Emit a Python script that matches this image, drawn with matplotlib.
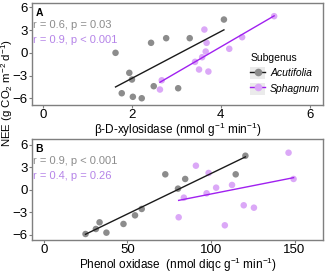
import numpy as np
import matplotlib
matplotlib.use("Agg")
import matplotlib.pyplot as plt
from matplotlib.lines import Line2D
from matplotlib.patches import Patch
from matplotlib.legend_handler import HandlerTuple

plt.rcParams['font.family'] = ['Liberation Sans', 'DejaVu Sans']
plt.rcParams['mathtext.fontset'] = 'custom'
plt.rcParams['mathtext.rm'] = 'Liberation Sans'
plt.rcParams['mathtext.it'] = 'Liberation Sans:italic'
plt.rcParams['mathtext.bf'] = 'Liberation Sans:bold'

# NEE values (g CO2 m-2 d-1)
acu_xyl = [1.63, 2.43, 2.77, 1.94, 2.00, 1.77, 2.02, 2.22, 2.49, 3.04, 4.07, 3.30]
acu_nee_a = [0.0, 1.32, 1.93, -2.64, -3.52, -5.33, -5.80, -5.99, -4.40, -4.67, 4.39, 1.93]
sph_xyl = [5.20, 3.63, 3.68, 4.48, 4.19, 3.66, 3.58, 3.42, 3.51, 3.72, 2.63, 2.67]
sph_nee_a = [4.83, 3.07, 1.32, 2.06, 0.53, 0.17, -0.58, -1.19, -2.20, -2.47, -4.84, -3.62]

acu_phe = [25.0, 31.2, 33.4, 37.5, 47.7, 54.6, 58.6, 72.7, 80.3, 84.6, 114.8, 120.6]
acu_nee_b = [-5.87, -5.20, -4.31, -5.69, -4.53, -3.38, -2.53, 2.09, 0.18, 1.47, 2.09, 4.57]
sph_phe = [146.4, 149.4, 91.0, 98.6, 103.1, 112.6, 97.4, 83.8, 80.7, 119.6, 125.7, 108.3]
sph_nee_b = [4.97, 1.47, 3.24, 2.27, 0.31, 0.67, -0.44, -1.02, -3.64, -2.04, -2.36, -4.71]

groups = ['Acutifolia', 'Sphagnum']
stats_a = ['r = 0.6, p = 0.03', 'r = 0.9, p < 0.001']
stats_b = ['r = 0.9, p < 0.001', 'r = 0.4, p = 0.26']
xticks_a = [0, 2, 4, 6]
xticks_b = [0, 50, 100, 150]
yticks = [-6, -3, 0, 3, 6]

pt_col = ['#8c8c8c', '#dba8f7']
ln_col = ['#1a1a1a', '#a020f0']
txt_col = ['#8c8c8c', '#b584e8']
frame_col = '#7f7f7f'

W, H = 325, 271
fig = plt.figure(figsize=(W / 100, H / 100), dpi=100)

def px_axes(l, t, r, b):
    return fig.add_axes([l / W, 1 - b / H, (r - l) / W, (b - t) / H])

axA = px_axes(32, 3, 323, 105)
axB = px_axes(32, 139, 323, 240)

def draw(ax, xs, ys, xlim, ylim, xticks, xlabel, letter, stats):
    for i in range(2):
        x = np.array(xs[i]); y = np.array(ys[i])
        ax.scatter(x, y, s=22, color=pt_col[i], edgecolors='none', zorder=2)
        m, c = np.polyfit(x, y, 1)
        xx = np.array([x.min(), x.max()])
        ax.plot(xx, m * xx + c, color=ln_col[i], lw=1.0, zorder=3)
    ax.set_xlim(*xlim)
    ax.set_ylim(*ylim)
    ax.set_xticks(xticks)
    ax.set_yticks(yticks)
    ax.set_xticklabels([str(t) for t in xticks])
    ax.tick_params(axis='both', length=2.5, width=0.8, color=frame_col,
                   labelsize=9.5, pad=0.5, labelcolor='black')
    for s in ax.spines.values():
        s.set_color(frame_col)
        s.set_linewidth(1.0)
    ax.set_xlabel(xlabel, fontsize=8.5, labelpad=-0.5)
    ax.text(0.012, 0.905, letter, transform=ax.transAxes, fontsize=7.5,
            fontweight='bold', va='center', ha='left')
    ax.text(0.005, 0.78, stats[0], transform=ax.transAxes, fontsize=8,
            color=txt_col[0], va='center', ha='left')
    ax.text(0.005, 0.635, stats[1], transform=ax.transAxes, fontsize=8,
            color=txt_col[1], va='center', ha='left')

draw(axA, [acu_xyl, sph_xyl], [acu_nee_a, sph_nee_a], (-0.25, 6.3), (-6.88, 6.57),
     xticks_a, r'β-D-xylosidase (nmol g$\mathregular{^{-1}}$ min$\mathregular{^{-1}}$)', 'A', stats_a)
draw(axB, [acu_phe, sph_phe], [acu_nee_b, sph_nee_b], (-7, 167), (-6.67, 6.8),
     xticks_b, r'Phenol oxidase  (nmol diqc g$\mathregular{^{-1}}$ min$\mathregular{^{-1}}$)', 'B', stats_b)

fig.text(7.5 / W, 1 - 93 / H,
         r'NEE (g CO$\mathregular{_2}$ m$\mathregular{^{-2}}$ d$\mathregular{^{-1}}$)',
         rotation=90, fontsize=8.2, ha='center', va='center')

handles = []
for i in range(2):
    handles.append((Patch(facecolor='#ebebeb', edgecolor='none'),
                    Line2D([], [], color=ln_col[i], lw=1.0, marker='o', markersize=5.5,
                           markerfacecolor=pt_col[i], markeredgecolor='none')))
leg = axA.legend(handles, groups, handler_map={tuple: HandlerTuple(ndivide=1)},
                 title='Subgenus', loc='upper left',
                 bbox_to_anchor=(243 / W, 1 - 46 / H), bbox_transform=fig.transFigure,
                 frameon=False, fontsize=7.5, title_fontsize=7.5,
                 handlelength=1.4, handleheight=1.4, handletextpad=0.5,
                 labelspacing=0.35, borderpad=0.2)
leg._legend_box.align = 'left'
for t in leg.get_texts():
    t.set_fontstyle('italic')

fig.savefig('out.png', dpi=100)
